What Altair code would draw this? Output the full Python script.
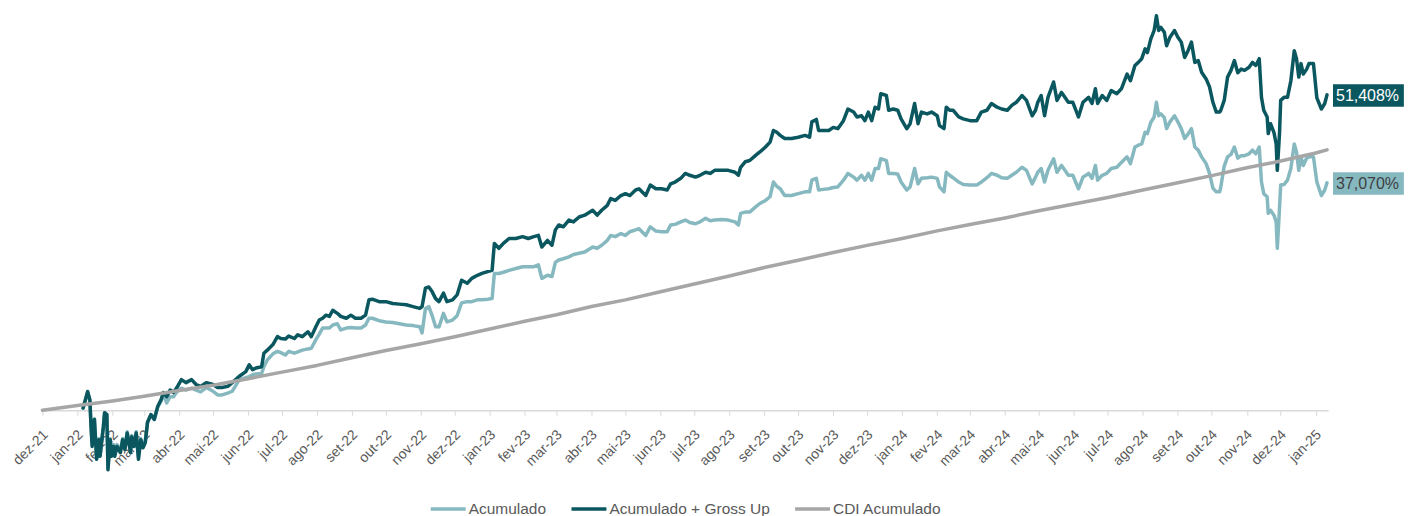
import altair as alt
import pandas as pd

# ---------------- data ----------------
DATAS = [
    "2022-01-06", "2022-01-10", "2022-01-12", "2022-01-13", "2022-01-14", "2022-01-16", "2022-01-18", "2022-01-20",
    "2022-01-21", "2022-01-24", "2022-01-25", "2022-01-27", "2022-01-28", "2022-01-30", "2022-01-31", "2022-02-02",
    "2022-02-03", "2022-02-05", "2022-02-08", "2022-02-10", "2022-02-12", "2022-02-14", "2022-02-17", "2022-02-18",
    "2022-02-20", "2022-02-22", "2022-02-24", "2022-02-26", "2022-02-28", "2022-03-02", "2022-03-04", "2022-03-07",
    "2022-03-10", "2022-03-13", "2022-03-16", "2022-03-18", "2022-03-21", "2022-03-24", "2022-03-27", "2022-03-30",
    "2022-04-03", "2022-04-07", "2022-04-12", "2022-04-16", "2022-04-20", "2022-04-25", "2022-05-01", "2022-05-05",
    "2022-05-09", "2022-05-14", "2022-05-18", "2022-05-24", "2022-05-30", "2022-06-02", "2022-06-05", "2022-06-08",
    "2022-06-13", "2022-06-15", "2022-06-18", "2022-06-23", "2022-06-27", "2022-06-30", "2022-07-04", "2022-07-07",
    "2022-07-12", "2022-07-15", "2022-07-19", "2022-07-24", "2022-07-27", "2022-07-31", "2022-08-03", "2022-08-06",
    "2022-08-09", "2022-08-12", "2022-08-15", "2022-08-19", "2022-08-22", "2022-08-27", "2022-08-31", "2022-09-04",
    "2022-09-09", "2022-09-13", "2022-09-16", "2022-09-19", "2022-09-25", "2022-10-01", "2022-10-07", "2022-10-13",
    "2022-10-19", "2022-10-25", "2022-10-31", "2022-11-02", "2022-11-05", "2022-11-08", "2022-11-11", "2022-11-14",
    "2022-11-17", "2022-11-21", "2022-11-24", "2022-11-29", "2022-12-03", "2022-12-07", "2022-12-12", "2022-12-16",
    "2022-12-21", "2022-12-25", "2022-12-30", "2023-01-03", "2023-01-05", "2023-01-09", "2023-01-13", "2023-01-18",
    "2023-01-24", "2023-01-30", "2023-02-04", "2023-02-09", "2023-02-13", "2023-02-16", "2023-02-21", "2023-02-25",
    "2023-02-28", "2023-03-03", "2023-03-07", "2023-03-12", "2023-03-16", "2023-03-21", "2023-03-26", "2023-04-02",
    "2023-04-06", "2023-04-10", "2023-04-15", "2023-04-18", "2023-04-22", "2023-04-27", "2023-05-01", "2023-05-05",
    "2023-05-10", "2023-05-13", "2023-05-19", "2023-05-23", "2023-05-28", "2023-06-02", "2023-06-07", "2023-06-10",
    "2023-06-14", "2023-06-19", "2023-06-23", "2023-06-27", "2023-07-02", "2023-07-06", "2023-07-11", "2023-07-15",
    "2023-07-19", "2023-07-25", "2023-07-31", "2023-08-06", "2023-08-09", "2023-08-11", "2023-08-15", "2023-08-19",
    "2023-08-24", "2023-08-28", "2023-09-02", "2023-09-06", "2023-09-09", "2023-09-12", "2023-09-15", "2023-09-19",
    "2023-09-25", "2023-10-01", "2023-10-07", "2023-10-11", "2023-10-13", "2023-10-17", "2023-10-19", "2023-10-23",
    "2023-10-28", "2023-11-01", "2023-11-05", "2023-11-10", "2023-11-14", "2023-11-19", "2023-11-22", "2023-11-26",
    "2023-11-29", "2023-12-02", "2023-12-05", "2023-12-08", "2023-12-11", "2023-12-13", "2023-12-18", "2023-12-20",
    "2023-12-24", "2023-12-28", "2023-12-31", "2024-01-05", "2024-01-08", "2024-01-12", "2024-01-15", "2024-01-18",
    "2024-01-23", "2024-01-27", "2024-02-01", "2024-02-03", "2024-02-07", "2024-02-09", "2024-02-12", "2024-02-15",
    "2024-02-20", "2024-02-24", "2024-03-01", "2024-03-07", "2024-03-11", "2024-03-16", "2024-03-20", "2024-03-25",
    "2024-03-29", "2024-04-03", "2024-04-07", "2024-04-11", "2024-04-16", "2024-04-20", "2024-04-25", "2024-04-28",
    "2024-04-30", "2024-05-03", "2024-05-06", "2024-05-09", "2024-05-14", "2024-05-17", "2024-05-21", "2024-05-24",
    "2024-05-27", "2024-05-31", "2024-06-05", "2024-06-09", "2024-06-14", "2024-06-17", "2024-06-20", "2024-06-22",
    "2024-06-26", "2024-06-30", "2024-07-04", "2024-07-09", "2024-07-13", "2024-07-18", "2024-07-21", "2024-07-25",
    "2024-07-28", "2024-07-31", "2024-08-03", "2024-08-05", "2024-08-08", "2024-08-11", "2024-08-13", "2024-08-15",
    "2024-08-17", "2024-08-20", "2024-08-22", "2024-08-25", "2024-08-29", "2024-09-01", "2024-09-04", "2024-09-07",
    "2024-09-10", "2024-09-13", "2024-09-16", "2024-09-19", "2024-09-22", "2024-09-26", "2024-09-29", "2024-10-02",
    "2024-10-05", "2024-10-08", "2024-10-09", "2024-10-12", "2024-10-15", "2024-10-18", "2024-10-21", "2024-10-24",
    "2024-10-27", "2024-10-30", "2024-11-03", "2024-11-06", "2024-11-09", "2024-11-12", "2024-11-14", "2024-11-16",
    "2024-11-19", "2024-11-20", "2024-11-22", "2024-11-25", "2024-11-27", "2024-11-28", "2024-11-30", "2024-12-01",
    "2024-12-04", "2024-12-07", "2024-12-10", "2024-12-13", "2024-12-15", "2024-12-17", "2024-12-19", "2024-12-21",
    "2024-12-24", "2024-12-26", "2024-12-30", "2025-01-02", "2025-01-06", "2025-01-09", "2025-01-11",
]

ACUM_GROSS_UP = [
    0.36, 3.06, 1.7, -2.6, -5.9, -1.5, -8.0, -4.8, -7.5, -2.6, -0.4, -0.7, -9.7, -4.8, -7.5, -5.9,
    -7.5, -5.9, -6.9, -4.8, -6.4, -3.7, -6.9, -4.3, -5.9, -3.7, -8.0, -4.8, -6.1, -5.3, -2.0, -0.7,
    -1.5, 0.6, 1.7, 2.9, 2.2, 3.3, 2.9, 3.7, 5.0, 4.5, 5.0, 4.2, 3.9, 4.5, 4.2, 3.7,
    3.7, 3.9, 4.5, 5.5, 6.3, 7.4, 6.6, 6.9, 7.1, 9.3, 9.8, 10.7, 12.0, 11.7, 11.6, 12.1,
    11.7, 12.3, 12.0, 12.8, 12.0, 13.6, 14.7, 15.0, 15.5, 15.3, 16.3, 15.8, 15.3, 15.0, 15.5, 15.0,
    15.0, 15.5, 18.0, 18.1, 17.7, 17.7, 17.4, 17.3, 17.2, 16.9, 16.6, 16.9, 19.9, 20.1, 19.3, 18.2,
    17.7, 19.1, 17.7, 18.0, 18.8, 21.2, 20.7, 21.5, 22.0, 22.3, 22.6, 22.8, 27.2, 26.4, 27.2, 28.0,
    28.0, 28.3, 28.0, 28.3, 28.5, 26.6, 27.7, 26.9, 29.4, 30.2, 29.9, 31.0, 30.7, 31.5, 31.8, 32.6,
    31.8, 32.6, 33.4, 34.5, 34.2, 35.0, 35.3, 35.0, 35.9, 36.1, 35.0, 36.7, 36.1, 36.1, 35.9, 36.9,
    37.2, 37.8, 38.6, 38.3, 38.0, 38.3, 38.8, 38.6, 39.1, 39.1, 39.1, 38.8, 38.3, 39.6, 40.5, 40.7,
    41.5, 42.1, 42.9, 43.7, 45.6, 45.3, 44.8, 44.3, 44.3, 44.5, 44.8, 44.5, 47.0, 47.4, 45.6, 45.6,
    45.6, 46.1, 45.9, 47.2, 49.1, 48.6, 47.8, 48.0, 47.2, 48.6, 47.2, 49.4, 49.1, 51.6, 51.3, 48.9,
    49.1, 48.9, 47.5, 45.9, 46.7, 50.0, 46.7, 48.6, 48.3, 48.6, 48.0, 46.4, 45.9, 49.4, 48.9, 48.9,
    47.8, 47.5, 47.2, 47.2, 48.6, 48.9, 50.0, 49.4, 49.1, 48.9, 49.7, 50.2, 51.3, 50.5, 48.0, 48.9,
    50.2, 51.3, 48.0, 51.0, 53.5, 50.5, 51.8, 51.0, 50.2, 50.2, 47.8, 50.2, 51.0, 50.0, 52.4, 50.0,
    51.3, 50.5, 52.1, 51.6, 52.4, 54.8, 53.7, 56.2, 56.7, 57.3, 58.9, 58.3, 60.5, 61.9, 64.3, 61.9,
    62.4, 61.6, 59.4, 60.8, 61.9, 60.8, 60.0, 57.5, 58.6, 60.0, 56.7, 57.0, 55.1, 54.0, 52.7, 50.2,
    48.6, 48.6, 48.9, 50.5, 54.3, 55.4, 57.0, 55.0, 55.6, 55.4, 55.9, 56.7, 56.2, 57.3, 51.0, 48.9,
    47.8, 45.1, 46.7, 45.3, 43.4, 39.1, 45.3, 50.5, 51.0, 51.0, 53.7, 58.6, 57.3, 54.3, 56.5, 54.8,
    55.6, 56.5, 56.5, 50.9, 49.1, 50.0, 51.408,
]

ACUMULADO = [
    0.35, 2.9, 1.6, -2.5, -5.6, -1.4, -7.6, -4.6, -7.1, -2.5, -0.4, -0.7, -9.2, -4.6, -7.1, -5.6,
    -7.1, -5.6, -6.6, -4.6, -6.1, -3.5, -6.6, -4.1, -5.6, -3.5, -7.6, -4.6, -5.8, -5.0, -1.9, -0.7,
    -1.4, 0.5, 1.5, 2.6, 1.2, 2.2, 2.2, 3.0, 3.6, 3.3, 3.6, 3.3, 3.0, 3.7, 3.1, 2.5,
    2.5, 2.8, 3.1, 4.9, 5.3, 5.5, 5.8, 5.9, 6.0, 7.1, 8.2, 9.2, 9.6, 9.4, 9.0, 9.6,
    9.3, 9.5, 9.8, 10.0, 10.1, 11.5, 12.4, 13.4, 13.4, 13.4, 13.9, 14.1, 13.1, 13.4, 13.5, 13.4,
    13.4, 13.9, 15.0, 15.0, 14.6, 14.4, 14.3, 14.1, 13.9, 13.8, 13.6, 12.6, 16.6, 16.9, 15.4, 13.6,
    13.6, 15.8, 14.4, 14.7, 15.4, 17.5, 17.7, 17.7, 18.0, 18.0, 18.1, 18.2, 22.3, 22.3, 22.5, 22.8,
    23.1, 23.4, 23.4, 23.4, 23.7, 21.5, 22.0, 21.8, 24.1, 24.5, 24.7, 25.0, 25.4, 25.6, 25.8, 26.6,
    26.4, 26.9, 27.7, 28.5, 28.3, 28.8, 28.5, 29.1, 29.4, 29.6, 28.5, 29.9, 29.2, 29.1, 29.1, 30.2,
    30.3, 30.7, 31.0, 30.6, 30.4, 30.7, 31.3, 30.9, 31.0, 31.1, 31.0, 30.7, 30.2, 32.1, 32.3, 32.3,
    33.1, 33.7, 34.2, 34.8, 37.2, 36.5, 36.1, 35.0, 35.0, 35.3, 35.6, 35.6, 37.5, 37.8, 35.9, 36.0,
    36.1, 36.3, 36.4, 37.5, 38.6, 38.0, 37.5, 38.3, 37.5, 38.6, 37.5, 39.4, 39.4, 41.0, 40.7, 38.6,
    38.6, 38.5, 37.2, 35.9, 36.4, 39.4, 36.9, 37.8, 37.9, 38.0, 37.8, 36.4, 35.6, 38.8, 38.3, 37.9,
    37.2, 36.8, 36.7, 36.7, 37.2, 37.9, 38.6, 38.3, 37.9, 37.8, 38.3, 38.8, 39.6, 39.1, 36.9, 38.0,
    38.8, 39.4, 37.2, 39.1, 41.0, 38.8, 39.9, 39.1, 38.3, 38.3, 36.1, 38.0, 38.6, 37.8, 39.9, 37.5,
    38.3, 38.6, 39.4, 39.6, 40.4, 41.3, 40.2, 42.9, 43.2, 43.4, 45.3, 45.1, 46.9, 47.8, 50.2, 48.0,
    48.3, 47.7, 45.9, 47.0, 48.0, 47.0, 45.9, 44.3, 45.0, 45.9, 42.9, 42.4, 41.3, 40.2, 38.6, 36.2,
    35.6, 35.6, 36.4, 39.8, 41.3, 41.7, 42.9, 41.1, 41.5, 41.5, 41.8, 42.4, 41.8, 42.9, 37.2, 35.3,
    34.8, 32.1, 32.6, 31.8, 30.7, 26.4, 33.1, 36.7, 36.8, 37.5, 39.4, 43.4, 42.1, 39.1, 41.3, 39.9,
    41.1, 41.3, 41.3, 37.2, 35.0, 35.9, 37.07,
]

CDI_DATAS = [
    "2021-12-01", "2022-01-01", "2022-02-01", "2022-03-01", "2022-04-01", "2022-05-01", "2022-06-01", "2022-07-01",
    "2022-08-01", "2022-09-01", "2022-10-01", "2022-11-01", "2022-12-01", "2023-01-01", "2023-02-01", "2023-03-01",
    "2023-04-01", "2023-05-01", "2023-06-01", "2023-07-01", "2023-08-01", "2023-09-01", "2023-10-01", "2023-11-01",
    "2023-12-01", "2024-01-01", "2024-02-01", "2024-03-01", "2024-04-01", "2024-05-01", "2024-06-01", "2024-07-01",
    "2024-08-01", "2024-09-01", "2024-10-01", "2024-11-01", "2024-12-01", "2025-01-01", "2025-01-11",
]
CDI_ACUM = [
    0.0, 0.76, 1.5, 2.27, 3.22, 4.08, 5.15, 6.22,
    7.31, 8.57, 9.73, 10.85, 11.98, 13.24, 14.51, 15.56,
    16.91, 17.99, 19.31, 20.59, 21.88, 23.27, 24.46, 25.71,
    26.87, 28.0, 29.24, 30.27, 31.35, 32.52, 33.62, 34.68,
    35.9, 37.08, 38.24, 39.52, 40.62, 41.93, 42.45,
]

SERIES = ["Acumulado", "Acumulado + Gross Up", "CDI Acumulado"]
CORES = ["#86b8c0", "#0b575f", "#a6a6a6"]
MESES = ["jan", "fev", "mar", "abr", "mai", "jun", "jul", "ago", "set", "out", "nov", "dez"]
ROTULOS_FINAIS = ["51,408%", "37,070%"]

# ---------------- build tables ----------------
rows = []
for d, v in zip(DATAS, ACUMULADO):
    rows.append({"data": d, "valor": v, "serie": SERIES[0]})
for d, v in zip(DATAS, ACUM_GROSS_UP):
    rows.append({"data": d, "valor": v, "serie": SERIES[1]})
for d, v in zip(CDI_DATAS, CDI_ACUM):
    rows.append({"data": d, "valor": v, "serie": SERIES[2]})
df = pd.DataFrame(rows)

FONT = "Liberation Sans"

x_scale = alt.Scale(
    type="utc",
    domain=[alt.DateTime(year=2021, month=12, date=1, utc=True),
            alt.DateTime(year=2025, month=1, date=12, utc=True)],
    nice=False,
)
y_scale = alt.Scale(domain=[-10, 65], nice=False, zero=False)

tick_vals = []
yy, mm = 2021, 12
while (yy, mm) <= (2025, 1):
    tick_vals.append(alt.DateTime(year=yy, month=mm, date=1, utc=True))
    mm += 1
    if mm > 12:
        mm = 1
        yy += 1

label_expr = ("[" + ",".join("'%s'" % m for m in MESES) + "][utcmonth(datum.value)]"
              " + '-' + utcFormat(datum.value, '%y')")

x_axis = alt.Axis(
    values=tick_vals, labelExpr=label_expr, title=None, grid=False,
    domainColor="#d9d9d9", domainWidth=1.5, tickColor="#d9d9d9", tickSize=5, tickWidth=1,
    labelAngle=-45, labelAlign="right", labelBaseline="middle", labelPadding=17, labelOffset=3,
    labelFont=FONT, labelFontSize=14, labelColor="#595959",
    labelOverlap=False, labelFlush=False, labelBound=False, offset=-61.5,
)
x_enc = alt.X("data:T", scale=x_scale, axis=x_axis)
y_enc = alt.Y("valor:Q", scale=y_scale, axis=None)

lines = alt.Chart(df).mark_line(strokeWidth=3.5, strokeJoin="round", strokeCap="round").encode(
    x=x_enc,
    y=y_enc,
    color=alt.Color(
        "serie:N",
        scale=alt.Scale(domain=SERIES, range=CORES),
        legend=alt.Legend(
            title=None, orient="none", legendX=387, legendY=479, direction="horizontal",
            symbolType="stroke", symbolSize=1225, symbolStrokeWidth=3.5,
            labelFont=FONT, labelFontSize=15.5, labelColor="#595959", labelLimit=400,
            labelOffset=1, columnPadding=18,
        ),
    ),
)

layers = [lines]
finais = [
    (ACUM_GROSS_UP[-1], ROTULOS_FINAIS[0], CORES[1], "#ffffff"),
    (ACUMULADO[-1], ROTULOS_FINAIS[1], CORES[0], "#404040"),
]
for valor, texto, fundo, cor_txt in finais:
    d = pd.DataFrame({"data": [DATAS[-1]], "valor": [valor], "texto": [texto]})
    base = alt.Chart(d)
    rect = base.mark_rect(fill=fundo, xOffset=6, x2Offset=77, yOffset=-10.5, y2Offset=12).encode(
        x=x_enc,
        x2=alt.X2("data:T"),
        y=y_enc,
        y2=alt.Y2("valor:Q"),
    )
    txt = base.mark_text(align="left", baseline="middle", dx=9, dy=1, fontSize=16, font=FONT,
                         color=cor_txt).encode(
        x=x_enc,
        y=y_enc,
        text="texto:N",
    )
    layers += [rect, txt]

chart = alt.layer(*layers).properties(
    width=1288, height=461,
    padding={"left": 34.5, "top": 3, "right": 80, "bottom": 44},
    autosize=alt.AutoSizeParams(type="none"),
    background="white",
).configure_view(stroke=None)

chart.save("out.html", embed_options={"renderer": "svg", "actions": False})
